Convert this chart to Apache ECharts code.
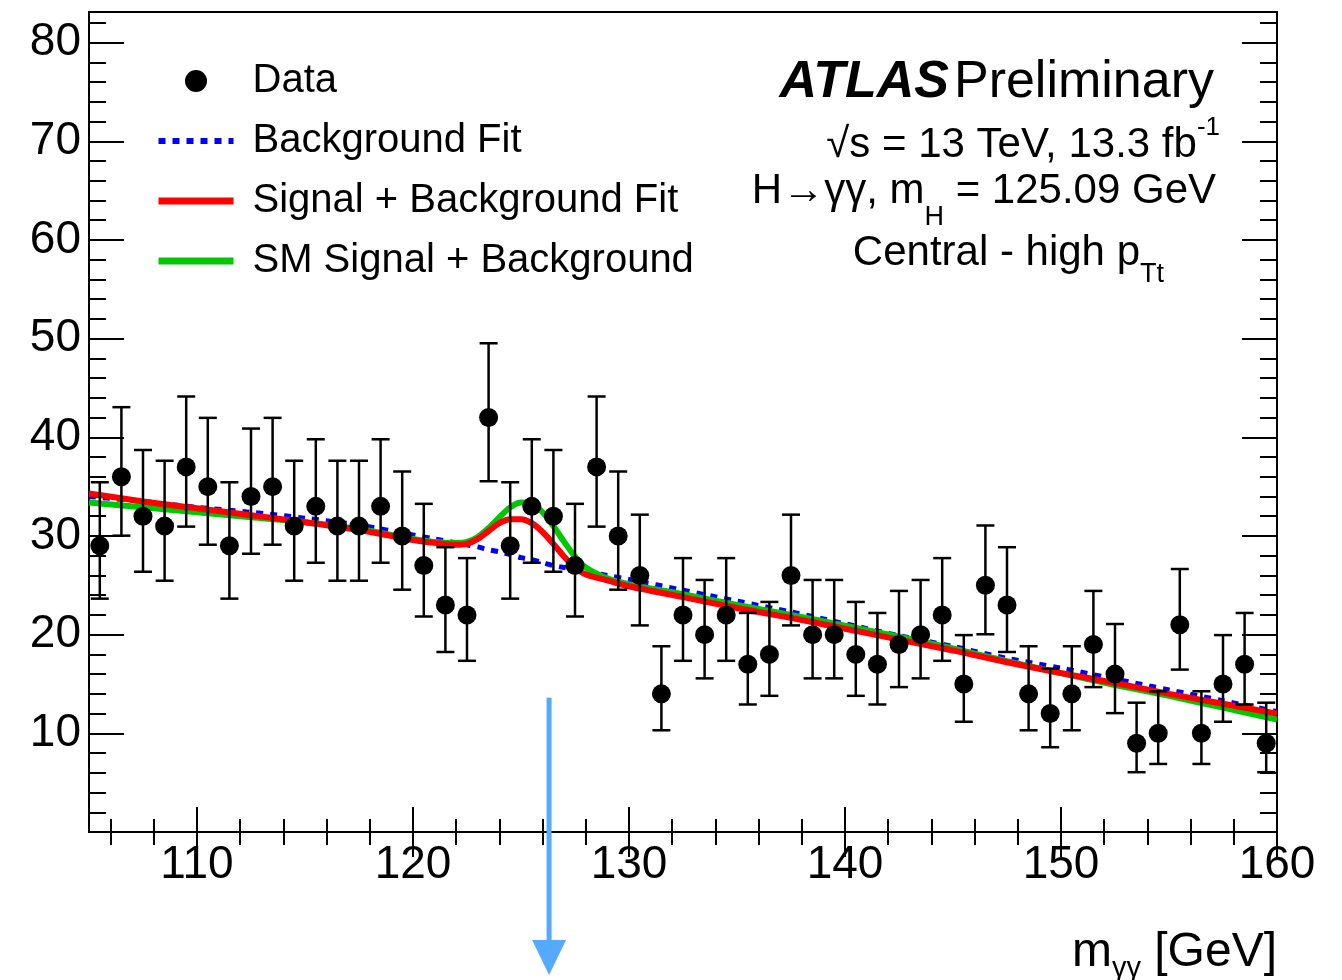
<!DOCTYPE html>
<html>
<head>
<meta charset="utf-8">
<script src="https://cdn.jsdelivr.net/npm/echarts@6/dist/echarts.min.js"></script>
<style>
    body { margin: 0; background: #fff; }
    #chart { width: 1342px; height: 980px; }
</style>
</head>
<body>
<div id="chart"></div>
<script>
// diphoton mass bins (bin centres, GeV) and event counts
const massBins = [105.5, 106.5, 107.5, 108.5, 109.5, 110.5, 111.5, 112.5, 113.5, 114.5,
    115.5, 116.5, 117.5, 118.5, 119.5, 120.5, 121.5, 122.5, 123.5, 124.5,
    125.5, 126.5, 127.5, 128.5, 129.5, 130.5, 131.5, 132.5, 133.5, 134.5,
    135.5, 136.5, 137.5, 138.5, 139.5, 140.5, 141.5, 142.5, 143.5, 144.5,
    145.5, 146.5, 147.5, 148.5, 149.5, 150.5, 151.5, 152.5, 153.5, 154.5,
    155.5, 156.5, 157.5, 158.5, 159.5]
const counts = [29, 36, 32, 31, 37, 35, 29, 34, 35, 31,
    33, 31, 31, 33, 30, 27, 23, 22, 42, 29,
    33, 32, 27, 37, 30, 26, 14, 22, 20, 22,
    17, 18, 26, 20, 20, 18, 17, 19, 20, 22,
    15, 25, 23, 14, 12, 14, 19, 16, 9, 10,
    21, 10, 15, 17, 9]

// fit curves at these masses
const curveMass = [105, 107.5, 110, 112.5, 115, 117.5, 120, 121, 122, 122.5,
    123, 123.5, 124, 124.5, 125, 125.5, 126, 126.5, 127, 127.5,
    128, 129, 130, 132.5, 135, 137.5, 140, 142.5, 145, 147.5,
    150, 152.5, 155, 157.5, 160]
const bkgFit = [34.0, 33.5, 32.9, 32.4, 31.8, 31.1, 30.1, 29.7, 29.3, 29.1,
    28.9, 28.6, 28.4, 28.1, 27.8, 27.6, 27.3, 27.0, 26.8, 26.6,
    26.4, 26.0, 25.6, 24.5, 23.4, 22.3, 21.1, 19.9, 18.8, 17.6,
    16.6, 15.5, 14.4, 13.3, 12.2]
const sbFit = [34.3, 33.5, 32.8, 32.1, 31.4, 30.6, 29.6, 29.3, 29.1, 29.2,
    29.7, 30.5, 31.3, 31.7, 31.7, 31.3, 30.4, 29.2, 27.9, 26.8,
    26.1, 25.5, 24.9, 23.8, 22.7, 21.7, 20.6, 19.5, 18.4, 17.2,
    16.1, 15.1, 14.0, 13.0, 12.0]
const smSb = [33.4, 32.9, 32.4, 31.9, 31.4, 30.7, 29.7, 29.4, 29.3, 29.4,
    29.9, 30.8, 31.9, 32.9, 33.4, 33.3, 32.4, 31.0, 29.4, 27.9,
    26.8, 25.7, 25.1, 24.1, 23.0, 22.0, 20.9, 19.8, 18.6, 17.3,
    16.1, 14.9, 13.8, 12.6, 11.4]

// axis ticks
const xMajorTicks = [110, 120, 130, 140, 150, 160]
const xMinorTicks = [106, 108, 112, 114, 116, 118, 122, 124, 126, 128, 132, 134, 136, 138,
    142, 144, 146, 148, 152, 154, 156, 158]
const yMajorTicks = [10, 20, 30, 40, 50, 60, 70, 80]
const yMinorTicks = [2, 4, 6, 8, 12, 14, 16, 18, 22, 24, 26, 28, 32, 34, 36, 38, 42, 44, 46, 48,
    52, 54, 56, 58, 62, 64, 66, 68, 72, 74, 76, 78, 82]

// arrow annotation (top end, in data coordinates)
const arrowMass = 126.3
const arrowTop = 13.6

const FONT = 'Liberation Sans, Arial, Helvetica, sans-serif'
const X_MIN = 105, X_MAX = 160, Y_MIN = 0, Y_MAX = 83.1

// Poisson 68% interval (Gehrels approximation), as ROOT draws for counts
function poissonErr(n) {
    let lo = n > 0 ? n * Math.pow(1 - 1 / (9 * n) - 1 / (3 * Math.sqrt(n)), 3) : 0
    let hi = (n + 1) * Math.pow(1 - 1 / (9 * (n + 1)) + 1 / (3 * Math.sqrt(n + 1)), 3)
    return [lo, hi]
}

let pointData = massBins.map((m, i) => [m, counts[i]])
let errData = massBins.map((m, i) => {
    let e = poissonErr(counts[i])
    return [m, counts[i], e[0], e[1]]
})
let pairs = arr => curveMass.map((m, i) => [m, arr[i]])

function xAxisDef(grid, pos, ticks, len, labels) {
    return {
        type: 'value', gridIndex: grid, position: pos, min: X_MIN, max: X_MAX,
        axisLine: { show: false },
        splitLine: { show: false },
        axisTick: { inside: true, length: len, customValues: ticks, lineStyle: { color: '#000', width: 2 } },
        axisLabel: labels ? { customValues: ticks, fontSize: 46, fontFamily: FONT, color: '#000', margin: 10 } : { show: false }
    }
}
function yAxisDef(grid, pos, ticks, len, labels) {
    return {
        type: 'value', gridIndex: grid, position: pos, min: Y_MIN, max: Y_MAX,
        axisLine: { show: false },
        splitLine: { show: false },
        axisTick: { inside: true, length: len, customValues: ticks, lineStyle: { color: '#000', width: 2 } },
        axisLabel: labels ? { customValues: ticks, fontSize: 46, fontFamily: FONT, color: '#000', margin: 8 } : { show: false }
    }
}

// rich text helpers for the labels with sub/superscripts
let txt = (size, extra) => Object.assign({ fontSize: size, fontFamily: FONT, fontWeight: 'normal', color: '#000' }, extra || {})

let gridBox = { left: 89, right: 65, top: 12, bottom: 148 }
let chart = echarts.init(document.getElementById('chart'))

let option = {
    backgroundColor: '#fff',
    animation: false,
    grid: [
        Object.assign({ show: true, borderColor: '#000', borderWidth: 2, backgroundColor: 'transparent' }, gridBox),
        Object.assign({ show: false }, gridBox)
    ],
    xAxis: [
        xAxisDef(0, 'bottom', xMajorTicks, 25, true),
        xAxisDef(0, 'top', xMajorTicks, 25, false),
        xAxisDef(1, 'bottom', xMinorTicks, 13, false),
        xAxisDef(1, 'top', xMinorTicks, 13, false)
    ],
    yAxis: [
        yAxisDef(0, 'left', yMajorTicks, 35, true),
        yAxisDef(0, 'right', yMajorTicks, 35, false),
        yAxisDef(1, 'left', yMinorTicks, 17, false),
        yAxisDef(1, 'right', yMinorTicks, 17, false)
    ],
    legend: {
        orient: 'vertical',
        left: 150,
        top: 55,
        itemWidth: 75,
        itemHeight: 22,
        itemGap: 18,
        data: [
            { name: 'Data', icon: 'circle', itemStyle: { color: '#000', opacity: 1 } },
            { name: 'Background Fit', itemStyle: { opacity: 0 }, lineStyle: { color: '#0000ff', width: 6, type: [7, 7] } },
            { name: 'Signal + Background Fit', itemStyle: { opacity: 0 }, lineStyle: { color: '#ff0000', width: 7 } },
            { name: 'SM Signal + Background', itemStyle: { opacity: 0 }, lineStyle: { color: '#00c800', width: 7 } }
        ],
        textStyle: { fontSize: 40, fontFamily: FONT, color: '#000', lineHeight: 42, padding: [0, 0, 0, 14] }
    },
    title: [
        {
            right: 128, top: 57, padding: 0,
            text: '{b|ATLAS} {r|Preliminary}',
            textStyle: {
                rich: {
                    b: txt(52, { fontWeight: 'bold', fontStyle: 'italic', lineHeight: 52 }),
                    r: txt(52, { lineHeight: 52 })
                }
            }
        },
        {
            right: 122, top: 115, padding: 0,
            text: '{n|√s = 13 TeV, 13.3 fb}{s|-1}',
            textStyle: {
                rich: {
                    n: txt(42, { lineHeight: 44, padding: [9, 0, 0, 0], verticalAlign: 'top' }),
                    s: txt(26, { lineHeight: 26, verticalAlign: 'top' })
                }
            }
        },
        {
            right: 126, top: 170, padding: 0,
            text: '{n|H→γγ, m}{s|H}{n| = 125.09 GeV}',
            textStyle: {
                rich: {
                    n: txt(42, { lineHeight: 44, verticalAlign: 'top' }),
                    s: txt(27, { lineHeight: 27, padding: [34, 0, 0, 0], verticalAlign: 'top' })
                }
            }
        },
        {
            right: 178, top: 232, padding: 0,
            text: '{n|Central - high p}{s|Tt}',
            textStyle: {
                rich: {
                    n: txt(42, { lineHeight: 44, verticalAlign: 'top' }),
                    s: txt(27, { lineHeight: 27, padding: [29, 0, 0, 0], verticalAlign: 'top' })
                }
            }
        },
        {
            right: 65, top: 929, padding: 0,
            text: '{n|m}{s|γγ}{n| [GeV]}',
            textStyle: {
                rich: {
                    n: txt(48, { lineHeight: 48, verticalAlign: 'top' }),
                    s: txt(29, { lineHeight: 29, padding: [25, 0, 0, 0], verticalAlign: 'top' })
                }
            }
        }
    ],
    series: [
        {
            name: 'Background Fit',
            type: 'line',
            xAxisIndex: 0, yAxisIndex: 0,
            data: pairs(bkgFit),
            smooth: 0.3,
            symbol: 'none',
            lineStyle: { color: '#0000ff', width: 5, type: [7, 7] },
            itemStyle: { color: '#0000ff' },
            z: 2
        },
        {
            name: 'SM Signal + Background',
            type: 'line',
            xAxisIndex: 0, yAxisIndex: 0,
            data: pairs(smSb),
            smooth: 0.3,
            symbol: 'none',
            lineStyle: { color: '#00c800', width: 6 },
            itemStyle: { color: '#00c800' },
            z: 3
        },
        {
            name: 'Signal + Background Fit',
            type: 'line',
            xAxisIndex: 0, yAxisIndex: 0,
            data: pairs(sbFit),
            smooth: 0.3,
            symbol: 'none',
            lineStyle: { color: '#ff0000', width: 6 },
            itemStyle: { color: '#ff0000' },
            z: 4
        },
        {
            name: 'Data errors',
            type: 'custom',
            xAxisIndex: 0, yAxisIndex: 0,
            data: errData,
            z: 5,
            renderItem: function (params, api) {
                let top = api.coord([api.value(0), api.value(3)])
                let bot = api.coord([api.value(0), api.value(2)])
                let half = 9
                let st = { stroke: '#000', lineWidth: 2.5 }
                return {
                    type: 'group',
                    children: [
                        { type: 'line', shape: { x1: top[0], y1: top[1], x2: bot[0], y2: bot[1] }, style: st },
                        { type: 'line', shape: { x1: top[0] - half, y1: top[1], x2: top[0] + half, y2: top[1] }, style: st },
                        { type: 'line', shape: { x1: bot[0] - half, y1: bot[1], x2: bot[0] + half, y2: bot[1] }, style: st }
                    ]
                }
            }
        },
        {
            name: 'Data',
            type: 'scatter',
            xAxisIndex: 0, yAxisIndex: 0,
            data: pointData,
            symbol: 'circle',
            symbolSize: 19,
            itemStyle: { color: '#000', opacity: 1 },
            z: 6
        }
    ]
}
chart.setOption(option)

// blue arrow from the plot down past the axis
let tip = chart.convertToPixel({ xAxisIndex: 0, yAxisIndex: 0 }, [arrowMass, arrowTop])
chart.setOption({
    graphic: [
        { type: 'line', shape: { x1: tip[0], y1: tip[1], x2: tip[0], y2: 945 }, style: { stroke: '#55aaff', lineWidth: 5 }, z: 10 },
        { type: 'polygon', shape: { points: [[tip[0] - 17, 940], [tip[0] + 17, 940], [tip[0], 975]] }, style: { fill: '#55aaff' }, z: 10 }
    ]
})
</script>
</body>
</html>
